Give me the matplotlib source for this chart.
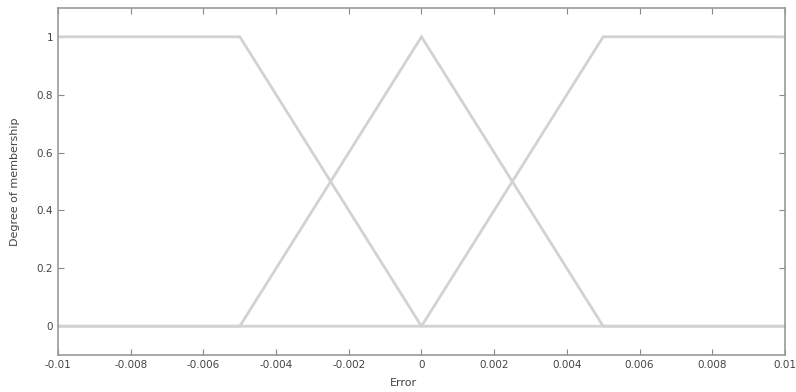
import numpy as np
import matplotlib.pyplot as plt

# membership functions for "Error"
x_left = [-0.01, -0.005, 0.0, 0.01]
y_left = [1, 1, 0, 0]
x_mid = [-0.01, -0.005, 0.0, 0.005, 0.01]
y_mid = [0, 0, 1, 0, 0]
x_right = [-0.01, 0.0, 0.005, 0.01]
y_right = [0, 0, 1, 1]

xticks = [-0.01, -0.008, -0.006, -0.004, -0.002, 0, 0.002, 0.004, 0.006, 0.008, 0.01]
xtick_labels = ["-0.01", "-0.008", "-0.006", "-0.004", "-0.002", "0",
                "0.002", "0.004", "0.006", "0.008", "0.01"]
yticks = [0, 0.2, 0.4, 0.6, 0.8, 1]
ytick_labels = ["0", "0.2", "0.4", "0.6", "0.8", "1"]

fig = plt.figure(figsize=(7.96, 3.92), dpi=100)
ax = fig.add_axes([0.073, 0.094, 0.913, 0.886])

line_color = "#d2d2d2"
for xs, ys in [(x_left, y_left), (x_mid, y_mid), (x_right, y_right)]:
    ax.plot(xs, ys, color=line_color, linewidth=2.0, solid_joinstyle="miter")

ax.set_xlim(-0.01, 0.01)
ax.set_ylim(-0.1, 1.1)
ax.set_xticks(xticks)
ax.set_xticklabels(xtick_labels)
ax.set_yticks(yticks)
ax.set_yticklabels(ytick_labels)
ax.tick_params(direction="in", top=True, right=True, length=4,
               labelsize=7.5, colors="#888888", labelcolor="#444444")
for s in ax.spines.values():
    s.set_color("#999999")
    s.set_linewidth(1.2)

ax.set_xlabel("Error", fontsize=8, color="#444444")
ax.set_ylabel("Degree of membership", fontsize=8, color="#444444")
ax.xaxis.set_label_coords(0.475, -0.065)
ax.yaxis.set_label_coords(-0.052, 0.5)

fig.savefig("out.png", dpi=100)
plt.close(fig)
